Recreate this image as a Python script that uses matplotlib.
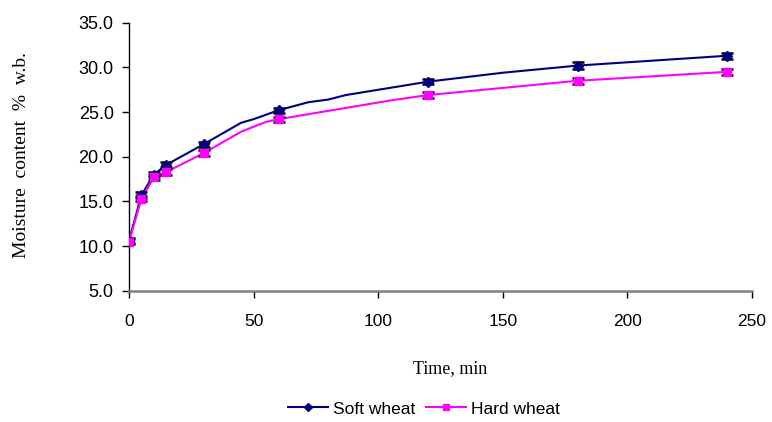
import numpy as np
import matplotlib.pyplot as plt

# marked sampling times (with error bars)
t_marked = [0, 5, 10, 15, 30, 60, 120, 180, 240]
soft_marked = [10.6, 15.7, 18.0, 19.1, 21.4, 25.2, 28.4, 30.2, 31.3]
hard_marked = [10.5, 15.3, 17.7, 18.3, 20.4, 24.2, 26.9, 28.5, 29.5]
soft_err = [0.3, 0.3, 0.3, 0.3, 0.3, 0.3, 0.3, 0.35, 0.35]
hard_err = [0.3, 0.3, 0.3, 0.3, 0.3, 0.3, 0.35, 0.35, 0.35]

# full line traces (extra unmarked points)
t_soft = [0, 5, 10, 15, 30, 45, 50, 60, 72, 80, 87, 120, 150, 180, 240]
soft_line = [10.6, 15.7, 18.0, 19.1, 21.4, 23.8, 24.2, 25.2, 26.1, 26.4, 26.9, 28.4, 29.4, 30.2, 31.3]
t_hard = [0, 5, 10, 15, 30, 45, 55, 60, 105, 120, 150, 180, 240]
hard_line = [10.5, 15.3, 17.7, 18.3, 20.4, 22.8, 23.9, 24.2, 26.3, 26.9, 27.7, 28.5, 29.5]

SOFT = "#000080"
HARD = "#FF00FF"

fig = plt.figure(figsize=(7.72, 4.22), dpi=100)
ax = fig.add_axes([129/772, 1-290.7/422, 623/772, 268/422])

ax.plot(t_soft, soft_line, color=SOFT, lw=1.5, zorder=3)
ax.plot(t_hard, hard_line, color=HARD, lw=1.5, zorder=3)
ax.errorbar(t_marked, soft_marked, yerr=soft_err, fmt='none', ecolor='black',
            elinewidth=1.3, capsize=4, capthick=1.8, zorder=4)
ax.errorbar(t_marked, hard_marked, yerr=hard_err, fmt='none', ecolor='black',
            elinewidth=1.3, capsize=4, capthick=1.8, zorder=4)
ax.plot(t_marked, soft_marked, 'D', color=SOFT, ms=5, zorder=5)
ax.plot(t_marked, hard_marked, 's', color=HARD, ms=6, zorder=5)

ax.set_xlim(0, 250)
ax.set_ylim(5, 35)
ax.set_xticks(np.arange(0, 251, 50))
ax.set_yticks(np.arange(5, 36, 5))
ax.set_yticklabels([f"{v:.1f}" for v in np.arange(5, 36, 5)])

for s in ['top', 'right']:
    ax.spines[s].set_visible(False)
ax.spines['bottom'].set_color('#808080')
ax.spines['bottom'].set_linewidth(1.8)
ax.spines['left'].set_color('black')
ax.spines['left'].set_linewidth(1.0)

ax.tick_params(axis='y', direction='out', length=5, width=1, pad=6,
               labelsize=13, labelfontfamily='Liberation Sans')
ax.tick_params(axis='x', direction='out', length=5, width=1, pad=12,
               labelsize=12.5, labelfontfamily='Liberation Sans')

fig.text(22/772, 1-155/422, "Moisture  content  %  w.b.", family='Liberation Serif',
         fontsize=14, rotation=90, ha='center', va='center')
fig.text(450/772, 1-369/422, "Time, min", family='Liberation Serif',
         fontsize=13, ha='center', va='center')

h1, = ax.plot([], [], color=SOFT, lw=1.5, marker='D', ms=4)
h2, = ax.plot([], [], color=HARD, lw=1.5, marker='s', ms=4)
fig.legend([h1, h2], ["Soft wheat", "Hard wheat"], loc='center',
           bbox_to_anchor=(424/772, 1-409/422), ncol=2, frameon=False,
           prop={'family': 'Liberation Sans', 'size': 12.5},
           handlelength=2.3, handletextpad=0.3, columnspacing=0.6)

fig.savefig("out.png", dpi=100)
